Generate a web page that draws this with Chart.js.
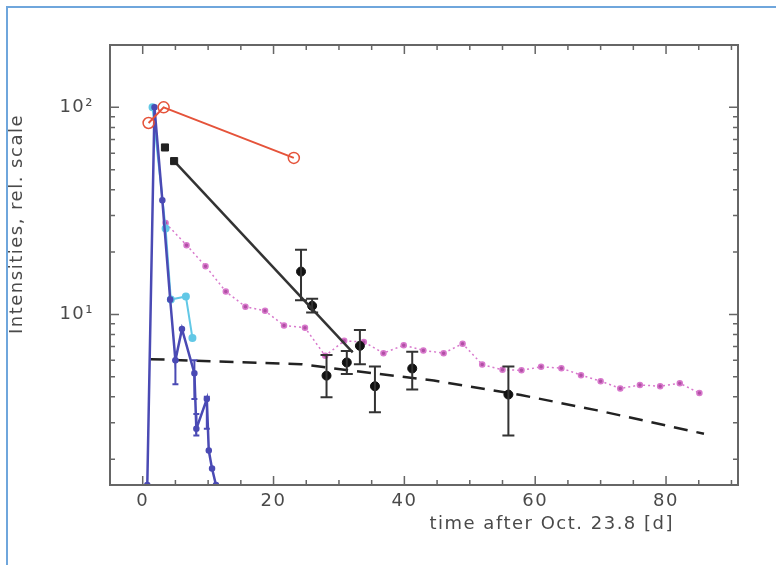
<!DOCTYPE html>
<html>
<head>
<meta charset="utf-8">
<script src="https://cdn.jsdelivr.net/npm/chart.js@4/dist/chart.umd.min.js"></script>
<style>
  body { margin: 0; background: #fff; }
  #wrap { position: relative; width: 776px; height: 565px; }
  #frame { position: absolute; left: 6px; top: 6px; right: 0; bottom: 0;
           border-left: 2px solid #6fa6dc; border-top: 2px solid #6fa6dc; pointer-events: none; }
</style>
</head>
<body>
<div id="wrap">
  <canvas id="decay_chart" width="776" height="565"></canvas>
  <div id="frame"></div>
</div>
<script>
// tick values
var xTickValues = [0, 20, 40, 60, 80];
var yTickValues = [10, 100];

// red open circles
var redX = [0.9, 3.2, 23.1];
var redY = [84, 100, 57];

// black squares and the line through them
var squareX = [3.4, 4.8];
var squareY = [64, 55];
var fitX = [4.8, 32.1];
var fitY = [55, 6.55];

// black points with error bars
var errX = [24.2, 25.9, 28.1, 31.2, 33.2, 35.5, 41.2, 55.9];
var errY = [16.1, 11.0, 5.06, 5.86, 7.05, 4.5, 5.48, 4.1];
var errLow = [11.7, 10.2, 3.98, 5.15, 5.74, 3.37, 4.34, 2.6];
var errHigh = [20.5, 11.9, 6.36, 6.66, 8.41, 5.61, 6.6, 5.61];

// magenta dotted series
var magX = [3.5, 6.7, 9.6, 12.7, 15.7, 18.7, 21.6, 24.8, 27.9, 30.8, 33.8, 36.8, 39.9, 42.9,
            46.0, 48.9, 51.9, 55.0, 57.9, 60.9, 64.0, 67.0, 70.0, 73.0, 76.0, 79.1, 82.1, 85.1];
var magY = [27.6, 21.6, 17.1, 12.9, 10.9, 10.4, 8.85, 8.63, 6.31, 7.45, 7.36, 6.5, 7.1, 6.7,
            6.5, 7.22, 5.73, 5.4, 5.37, 5.58, 5.5, 5.09, 4.76, 4.39, 4.56, 4.5, 4.65, 4.17];

// cyan series
var cyanX = [1.5, 3.5, 4.3, 6.6, 7.6];
var cyanY = [100, 26, 11.8, 12.2, 7.7];

// blue series
var blueX = [0.7, 1.8, 3.0, 4.2, 5.0, 6.0, 7.9, 8.2, 9.8, 10.1, 10.6, 11.2];
var blueY = [1.5, 100, 35.6, 11.8, 6.0, 8.5, 5.2, 2.8, 3.9, 2.2, 1.8, 1.5];
var blueLow = [null, null, null, null, 4.6, null, 3.9, 2.6, 2.8, null, null, null];
var blueHigh = [null, null, null, null, 6.0, null, 6.0, 3.3, 4.0, null, null, null];

// dashed black curve
var dashX = [1.2, 24.2, 29.3, 44.5, 57.8, 69.5, 85.8];
var dashY = [6.08, 5.75, 5.48, 4.79, 4.08, 3.44, 2.65];

function pts(xs, ys) {
    return xs.map(function(x, i) { return { x: x, y: ys[i] }; });
}

var AXIS_COLOR = '#666';
var TEXT_COLOR = '#4a4a4a';
var FONT = '"DejaVu Sans", sans-serif';
var SPACING = '1.5px';

/*
 * The reference text is set wide, so spread the letters a little
 */
var spacingPlugin = {
    id: 'spacing',
    beforeUpdate: function(chart) { chart.ctx.letterSpacing = SPACING; },
    beforeDraw: function(chart) { chart.ctx.letterSpacing = SPACING; }
};

/*
 * Draws error bars for datasets that carry errLow / errHigh arrays
 */
var errorBarPlugin = {
    id: 'errorBars',
    afterDatasetsDraw: function(chart) {
        const ctx = chart.ctx;
        const yScale = chart.scales.y;
        chart.data.datasets.forEach(function(ds, i) {
            if (!ds.errLow) return;
            const meta = chart.getDatasetMeta(i);
            ctx.save();
            ctx.strokeStyle = ds.errColor;
            ctx.lineWidth = 2;
            meta.data.forEach(function(pt, j) {
                if (ds.errLow[j] == null) return;
                const top = yScale.getPixelForValue(ds.errHigh[j]);
                const bot = yScale.getPixelForValue(ds.errLow[j]);
                const cap = ds.capWidth;
                ctx.beginPath();
                ctx.moveTo(pt.x, top); ctx.lineTo(pt.x, bot);
                ctx.moveTo(pt.x - cap, top); ctx.lineTo(pt.x + cap, top);
                ctx.moveTo(pt.x - cap, bot); ctx.lineTo(pt.x + cap, bot);
                ctx.stroke();
            });
            ctx.restore();
        });
    }
};

/*
 * Frame, inward tick marks on all sides, and the two axis titles
 */
var framePlugin = {
    id: 'frame',
    afterDraw: function(chart) {
        const ctx = chart.ctx;
        const a = chart.chartArea;
        const xs = chart.scales.x;
        const ys = chart.scales.y;
        ctx.save();
        ctx.strokeStyle = AXIS_COLOR;
        ctx.lineWidth = 1.5;
        // x ticks every 5, long ones on the labelled values
        for (let v = 0; v <= xs.max; v += 5) {
            const px = xs.getPixelForValue(v);
            const len = (v % 20 === 0) ? 9 : 5;
            ctx.beginPath();
            ctx.moveTo(px, a.bottom); ctx.lineTo(px, a.bottom - len);
            ctx.moveTo(px, a.top); ctx.lineTo(px, a.top + len);
            ctx.stroke();
        }
        // y ticks, log minor ticks
        for (let dec = 1; dec <= 100; dec *= 10) {
            for (let m = 1; m <= 9; m++) {
                const v = m * dec;
                if (v < ys.min || v > ys.max) continue;
                const py = ys.getPixelForValue(v);
                const len = (m === 1) ? 9 : 5;
                ctx.beginPath();
                ctx.moveTo(a.left, py); ctx.lineTo(a.left + len, py);
                ctx.moveTo(a.right, py); ctx.lineTo(a.right - len, py);
                ctx.stroke();
            }
        }
        ctx.lineWidth = 2;
        ctx.strokeRect(a.left, a.top, a.right - a.left, a.bottom - a.top);

        ctx.fillStyle = TEXT_COLOR;
        ctx.font = '18px ' + FONT;
        ctx.letterSpacing = SPACING;
        ctx.textAlign = 'right';
        ctx.textBaseline = 'middle';
        ctx.fillText('time after Oct. 23.8 [d]', 674, 524);
        ctx.translate(17, 224);
        ctx.rotate(-Math.PI / 2);
        ctx.textAlign = 'center';
        ctx.fillText('Intensities, rel. scale', 0, 0);
        ctx.restore();
    }
};

function createDecayChart() {
    const data = {
        datasets: [
            {
                label: 'red',
                data: pts(redX, redY),
                borderColor: '#e5533a',
                backgroundColor: 'rgba(0,0,0,0)',
                borderWidth: 2,
                pointRadius: 5.5,
                pointBorderWidth: 1.5,
                showLine: true,
            },
            {
                label: 'squares',
                data: pts(squareX, squareY),
                borderColor: '#222',
                backgroundColor: '#222',
                pointStyle: 'rect',
                pointRadius: 5,
                showLine: false,
            },
            {
                label: 'fit',
                data: pts(fitX, fitY),
                borderColor: '#333',
                borderWidth: 2.5,
                pointRadius: 0,
                showLine: true,
            },
            {
                label: 'errors',
                data: pts(errX, errY),
                borderColor: '#111',
                backgroundColor: '#111',
                pointRadius: 4.5,
                showLine: false,
                errLow: errLow,
                errHigh: errHigh,
                errColor: '#333',
                capWidth: 6,
            },
            {
                label: 'blue',
                data: pts(blueX, blueY),
                borderColor: '#4a4ab4',
                backgroundColor: '#4a4ab4',
                borderWidth: 2.5,
                pointRadius: 2,
                showLine: true,
                errLow: blueLow,
                errHigh: blueHigh,
                errColor: '#4a4ab4',
                capWidth: 3,
            },
            {
                label: 'cyan',
                data: pts(cyanX, cyanY),
                borderColor: '#62c8e6',
                backgroundColor: '#62c8e6',
                borderWidth: 2,
                pointRadius: 3,
                showLine: true,
            },
            {
                label: 'magenta',
                data: pts(magX, magY),
                borderColor: '#d878cc',
                backgroundColor: '#b050a4',
                borderWidth: 1.5,
                borderDash: [2, 3],
                pointRadius: 2.5,
                showLine: true,
            },
            {
                label: 'dashed',
                data: pts(dashX, dashY),
                borderColor: '#222',
                borderWidth: 2.5,
                borderDash: [14, 9],
                pointRadius: 0,
                showLine: true,
            },
        ]
    };
    const config = {
        type: 'scatter',
        data: data,
        options: {
            responsive: false,
            animation: false,
            layout: {
                padding: { left: 0, top: 45, right: 38, bottom: 0 }
            },
            scales: {
                x: {
                    type: 'linear',
                    min: -5,
                    max: 91,
                    grid: { display: false, drawTicks: false },
                    border: { display: false },
                    afterBuildTicks: function(scale) {
                        scale.ticks = xTickValues.map(function(v) { return { value: v }; });
                    },
                    afterFit: function(scale) { scale.height = 80; },
                    ticks: {
                        padding: 6,
                        color: TEXT_COLOR,
                        font: { family: FONT, size: 18 },
                        maxRotation: 0,
                    }
                },
                y: {
                    type: 'logarithmic',
                    min: 1.5,
                    max: 200,
                    grid: { display: false, drawTicks: false },
                    border: { display: false },
                    afterBuildTicks: function(scale) {
                        scale.ticks = yTickValues.map(function(v) { return { value: v }; });
                    },
                    afterFit: function(scale) { scale.width = 110; },
                    ticks: {
                        padding: 16,
                        color: TEXT_COLOR,
                        font: { family: FONT, size: 18 },
                        callback: function(v) { return v === 10 ? '10\u00B9' : '10\u00B2'; }
                    }
                }
            },
            plugins: {
                legend: { display: false },
                tooltip: { enabled: false },
                title: { display: false }
            }
        },
        plugins: [spacingPlugin, errorBarPlugin, framePlugin]
    };
    const myChart = new Chart(document.getElementById('decay_chart'), config);
}

createDecayChart();
</script>
</body>
</html>
